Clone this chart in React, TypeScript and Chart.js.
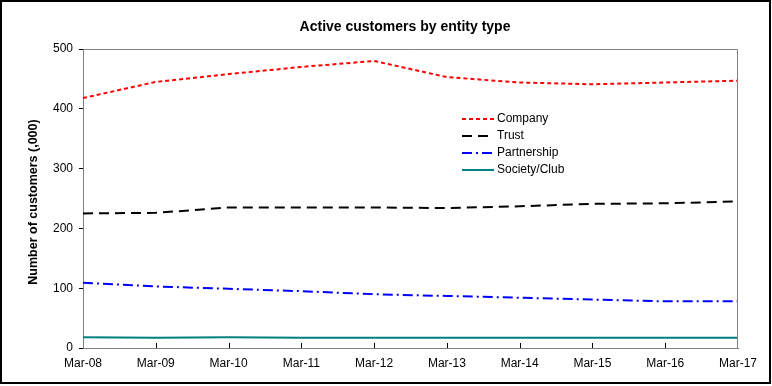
import React, { useEffect, useRef } from "react";
import { Chart, registerables } from "chart.js";

Chart.register(...registerables);

const categories = ["Mar-08", "Mar-09", "Mar-10", "Mar-11", "Mar-12", "Mar-13", "Mar-14", "Mar-15", "Mar-16", "Mar-17"];
const company = [418, 445, 458, 470, 480, 453, 444, 441, 444, 447];
const trust = [225, 226, 235, 235, 235, 234, 237, 241, 242, 245];
const partnership = [109, 103, 99, 95, 90, 87, 84, 81, 78, 78];
const societyClub = [18, 17, 18, 17, 17, 17, 17, 17, 17, 17];
const yTicks = [0, 100, 200, 300, 400, 500];

const seriesNames = ["Company", "Trust", "Partnership", "Society/Club"];
const seriesColors = ["#ff0000", "#000000", "#0000ff", "#008080"];
const seriesDashes = [[4, 3], [10, 6], [10, 4, 2, 4], []];

const FONT = "'Liberation Sans', Arial, sans-serif";

export default function App() {
  const ref = useRef<HTMLCanvasElement | null>(null);
  useEffect(() => {
    document.body.style.margin = "0";
    const canvas = ref.current!;
    const decor = {
      id: "decor",
      afterDraw(chart: any) {
        const ctx = chart.ctx;
        const a = chart.chartArea;
        ctx.save();
        // plot border top/right
        ctx.strokeStyle = "#808080";
        ctx.lineWidth = 1;
        ctx.beginPath();
        ctx.moveTo(a.left, a.top + 0.5);
        ctx.lineTo(a.right - 0.5, a.top + 0.5);
        ctx.lineTo(a.right - 0.5, a.bottom);
        ctx.stroke();
        // x tick marks inside
        const xs = chart.scales.x;
        ctx.strokeStyle = "#000000";
        ctx.beginPath();
        for (let i = 1; i < categories.length - 1; i++) {
          const px = Math.round(xs.getPixelForValue(i)) + 0.5;
          ctx.moveTo(px, a.bottom);
          ctx.lineTo(px, a.bottom - 5);
        }
        ctx.stroke();
        // outer border
        ctx.strokeStyle = "#000000";
        ctx.lineWidth = 2;
        ctx.strokeRect(1, 1, 769, 382);
        // title
        ctx.fillStyle = "#000000";
        ctx.font = "bold 14px " + FONT;
        ctx.textAlign = "center";
        ctx.textBaseline = "middle";
        ctx.fillText("Active customers by entity type", 405, 27);
        // y title
        ctx.save();
        ctx.translate(34, 202);
        ctx.rotate(-Math.PI / 2);
        ctx.font = "bold 12.5px " + FONT;
        ctx.fillText("Number of customers (,000)", 0, 0);
        ctx.restore();
        // legend
        ctx.font = "12px " + FONT;
        ctx.textAlign = "left";
        const rows = [119, 136, 153, 170];
        for (let i = 0; i < seriesNames.length; i++) {
          const y = rows[i];
          ctx.strokeStyle = seriesColors[i];
          ctx.lineWidth = 2;
          ctx.setLineDash(seriesDashes[i]);
          ctx.beginPath();
          ctx.moveTo(462, y);
          ctx.lineTo(494, y);
          ctx.stroke();
          ctx.setLineDash([]);
          ctx.fillStyle = "#000000";
          ctx.fillText(seriesNames[i], 497, y);
        }
        ctx.restore();
      },
    };
    const values = [company, trust, partnership, societyClub];
    const chart = new Chart(canvas, {
      type: "line",
      data: {
        labels: categories,
        datasets: values.map((v, i) => ({
          label: seriesNames[i],
          data: v,
          borderColor: seriesColors[i],
          backgroundColor: seriesColors[i],
          borderDash: seriesDashes[i],
          borderWidth: 2,
          pointRadius: 0,
          tension: 0,
          fill: false,
        })),
      },
      options: {
        responsive: false,
        animation: false,
        layout: { padding: { top: 49, right: 34, left: 0, bottom: 0 } },
        plugins: { legend: { display: false }, title: { display: false }, tooltip: { enabled: false } },
        scales: {
          x: {
            offset: false,
            grid: { display: true, drawOnChartArea: false, drawTicks: false },
            border: { display: true, color: "#808080", width: 1 },
            ticks: { color: "#000000", font: { family: FONT, size: 12 }, padding: 8, maxRotation: 0, autoSkip: false },
            afterFit(s: any) { s.height = 38; },
          },
          y: {
            min: 0,
            max: 500,
            afterBuildTicks(s: any) { s.ticks = yTicks.map((v) => ({ value: v })); },
            grid: { drawOnChartArea: false, drawTicks: true, tickLength: 4, color: "#000000" },
            border: { display: true, color: "#808080", width: 1 },
            ticks: { color: "#000000", font: { family: FONT, size: 12 }, padding: 6 },
            afterFit(s: any) { s.width = 83; },
          },
        },
      },
      plugins: [decor],
    });
    return () => chart.destroy();
  }, []);
  return <canvas ref={ref} width={772} height={386} style={{ display: "block" }} />;
}
